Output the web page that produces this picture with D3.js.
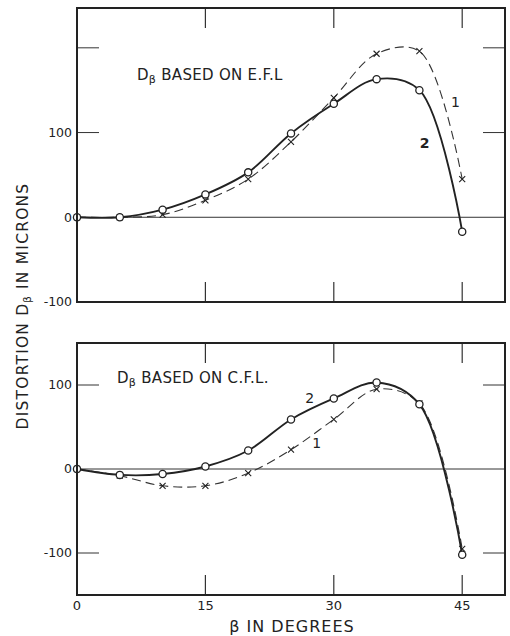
<!DOCTYPE html>
<html>
<head>
<meta charset="utf-8">
<script src="https://cdn.jsdelivr.net/npm/d3@7"></script>
<style>
  body { margin: 0; background: #fff; }
  svg text { font-family: "DejaVu Sans", sans-serif; fill: #222; }
</style>
</head>
<body>
<div id="chart"></div>
<script>
// data (beta in degrees, distortion in microns)
const betaDeg = [0, 5, 10, 15, 20, 25, 30, 35, 40, 45];
const eflCurve1 = [0, 0, 3, 20, 45, 89, 141, 193, 196, 45];
const eflCurve2 = [0, 0, 9, 27, 53, 99, 134, 163, 150, -17];
const cflCurve1 = [0, -8, -20, -20, -5, 23, 59, 95, 78, -95];
const cflCurve2 = [0, -7, -6, 3, 22, 59, 84, 103, 77, -102];

const xTicks = [0, 15, 30, 45];
const topTickLines = [100, 200];
const topTickLabels = [-100, 0, 100];
const botTickLines = [-100, 100];
const botTickLabels = [-100, 0, 100];

// curve number labels [beta, value, text, bold]
const topNotes = [[44.2, 136, '1', false], [40.6, 88, '2', true]];
const botNotes = [[28.0, 31, '1', false], [27.2, 84, '2', false]];

var width = 510, height = 636;
var svg = d3.select('#chart').append('svg')
  .attr('width', width)
  .attr('height', height);

var x = d3.scaleLinear().domain([0, 50]).range([77, 505]);

var yTop = d3.scaleLinear().domain([-100, 247]).range([302, 8]);
var yBot = d3.scaleLinear().domain([-150, 150]).range([595, 343]);

function drawPanel(y, tickLines, tickLabels, c1, c2, title, titleY, notes) {
  var g = svg.append('g');
  var x0 = x.range()[0], x1 = x.range()[1];
  var y0 = y.range()[1], y1 = y.range()[0];

  // zero line
  g.append('line')
    .attr('x1', x0).attr('x2', x1)
    .attr('y1', y(0)).attr('y2', y(0))
    .attr('stroke', '#333').attr('stroke-width', 1);

  // inner ticks, left and right
  tickLines.forEach(function(v) {
    g.append('line').attr('x1', x0).attr('x2', x0 + 22)
      .attr('y1', y(v)).attr('y2', y(v)).attr('stroke', '#333').attr('stroke-width', 1);
    g.append('line').attr('x1', x1 - 22).attr('x2', x1)
      .attr('y1', y(v)).attr('y2', y(v)).attr('stroke', '#333').attr('stroke-width', 1);
  });
  // inner ticks, top and bottom
  xTicks.slice(1).forEach(function(v) {
    g.append('line').attr('x1', x(v)).attr('x2', x(v))
      .attr('y1', y0).attr('y2', y0 + 20).attr('stroke', '#333').attr('stroke-width', 1.2);
    g.append('line').attr('x1', x(v)).attr('x2', x(v))
      .attr('y1', y1).attr('y2', y1 - 20).attr('stroke', '#333').attr('stroke-width', 1.2);
  });

  // tick labels
  g.selectAll('.ylab')
    .data(tickLabels)
    .join('text')
    .attr('x', x0 - 5)
    .attr('y', d => y(d))
    .attr('dy', '0.35em')
    .attr('text-anchor', 'end')
    .style('font-size', '12.5px')
    .text(d => d);

  var line = d3.line()
    .x(d => x(d[0]))
    .y(d => y(d[1]))
    .curve(d3.curveCatmullRom.alpha(0.5));

  var pts1 = betaDeg.map((b, i) => [b, c1[i]]);
  var pts2 = betaDeg.map((b, i) => [b, c2[i]]);

  g.append('path').attr('d', line(pts1))
    .attr('fill', 'none').attr('stroke', '#333')
    .attr('stroke-width', 1.1).attr('stroke-dasharray', '9,5');
  g.append('path').attr('d', line(pts2))
    .attr('fill', 'none').attr('stroke', '#222')
    .attr('stroke-width', 1.9);

  // x markers for curve 1
  g.selectAll('.xmark')
    .data(pts1)
    .join('path')
    .attr('d', d => {
      var px = x(d[0]), py = y(d[1]), s = 3;
      return `M${px - s},${py - s}L${px + s},${py + s}M${px + s},${py - s}L${px - s},${py + s}`;
    })
    .attr('stroke', '#222').attr('stroke-width', 1.1);

  // open circles for curve 2
  g.selectAll('.omark')
    .data(pts2)
    .join('circle')
    .attr('cx', d => x(d[0]))
    .attr('cy', d => y(d[1]))
    .attr('r', 3.6)
    .attr('fill', '#fff')
    .attr('stroke', '#222')
    .attr('stroke-width', 1.3);

  // frame
  g.append('rect')
    .attr('x', x0).attr('y', y0)
    .attr('width', x1 - x0).attr('height', y1 - y0)
    .attr('fill', 'none').attr('stroke', '#222').attr('stroke-width', 2);

  // panel title
  var t = g.append('text')
    .attr('x', title.x).attr('y', titleY)
    .style('font-size', '15px')
    .style('letter-spacing', '0.3px');
  t.append('tspan').text('D');
  t.append('tspan').attr('dy', 3).style('font-size', '11px').text('β');
  t.append('tspan').attr('dy', -3).text(title.text);

  // curve numbers
  g.selectAll('.note')
    .data(notes)
    .join('text')
    .attr('x', d => x(d[0]))
    .attr('y', d => y(d[1]))
    .attr('text-anchor', 'middle').attr('dy', '0.35em')
    .style('font-size', '14px')
    .style('font-weight', d => d[3] ? 'bold' : 'normal')
    .text(d => d[2]);
}

drawPanel(yTop, topTickLines, topTickLabels, eflCurve1, eflCurve2,
  { x: 137, text: ' BASED ON E.F.L' }, 80, topNotes);

drawPanel(yBot, botTickLines, botTickLabels, cflCurve1, cflCurve2,
  { x: 117, text: ' BASED ON C.F.L.' }, 383, botNotes);

// x tick labels under bottom panel
svg.selectAll('.xlab')
  .data(xTicks)
  .join('text')
  .attr('x', d => x(d))
  .attr('y', 605)
  .attr('dy', '0.35em')
  .attr('text-anchor', 'middle')
  .style('font-size', '13px')
  .text(d => d);

// axis titles
svg.append('text')
  .attr('x', 292).attr('y', 632)
  .attr('text-anchor', 'middle')
  .style('font-size', '16px')
  .style('letter-spacing', '1px')
  .text('β IN DEGREES');

var yl = svg.append('text')
  .attr('transform', 'translate(28,306) rotate(-90)')
  .attr('text-anchor', 'middle')
  .style('font-size', '15.5px')
  .style('letter-spacing', '1.2px');
yl.append('tspan').text('DISTORTION D');
yl.append('tspan').attr('dy', 3).style('font-size', '10px').text('β');
yl.append('tspan').attr('dy', -3).text(' IN MICRONS');
</script>
</body>
</html>
